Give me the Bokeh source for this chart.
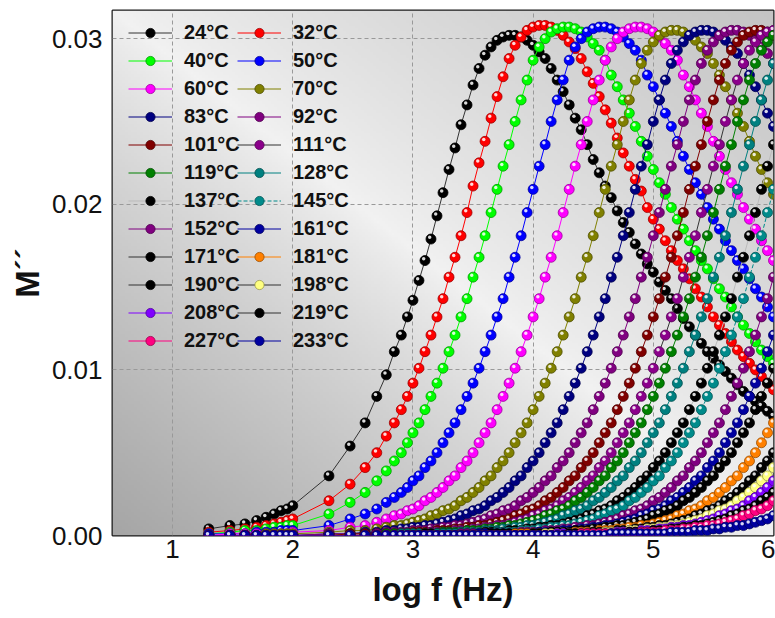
import numpy as np
from bokeh.plotting import figure
from bokeh.models import Legend, LegendItem, FixedTicker, PrintfTickFormatter, Range1d
from bokeh.embed import file_html
from bokeh.resources import INLINE

# ---------------- data ----------------
LOG_F = [1.301, 1.477, 1.602, 1.699, 1.778, 1.845, 1.903, 1.954, 2.0,
         2.301, 2.477, 2.602, 2.699, 2.778, 2.845, 2.903, 2.954,
         3.0, 3.05, 3.1, 3.15, 3.2, 3.25, 3.3, 3.35, 3.4, 3.45, 3.5, 3.55, 3.6, 3.65, 3.7, 3.75,
         3.8, 3.85, 3.9, 3.95, 4.0, 4.05, 4.1, 4.15, 4.2, 4.25, 4.3, 4.35, 4.4, 4.45, 4.5, 4.55,
         4.6, 4.65, 4.7, 4.75, 4.8, 4.85, 4.9, 4.95, 5.0, 5.05, 5.1, 5.15, 5.2, 5.25, 5.3, 5.35,
         5.4, 5.45, 5.5, 5.55, 5.6, 5.65, 5.7, 5.75, 5.8, 5.85, 5.9, 5.95, 6.0]

TEMPS = ["24", "32", "40", "50", "60", "70", "83", "92", "101", "111", "119", "128",
         "137", "145", "152", "161", "171", "181", "190", "198", "208", "219", "227", "233"]

m24 = [0.0004, 0.0006, 0.0007, 0.0009, 0.0011, 0.0013, 0.0015, 0.0016, 0.0018,
       0.0036, 0.0054, 0.0068, 0.0084, 0.0097, 0.0111, 0.0121, 0.0132,
       0.0142, 0.0154, 0.0166, 0.0179, 0.0193, 0.0207, 0.0221, 0.0234, 0.0248, 0.0260, 0.0272,
       0.0282, 0.0290, 0.0295, 0.0299, 0.0301, 0.0302, 0.0302, 0.0301, 0.0299, 0.0296, 0.0292,
       0.0288, 0.0282, 0.0275, 0.0268, 0.0260, 0.0252, 0.0245, 0.0236, 0.0227, 0.0219, 0.0211,
       0.0204, 0.0196, 0.0189, 0.0183, 0.0176, 0.0170, 0.0164, 0.0159, 0.0153, 0.0148, 0.0143,
       0.0137, 0.0131, 0.0126, 0.0121, 0.0116, 0.0111, 0.0107, 0.0103, 0.0099, 0.0095, 0.0091,
       0.0087, 0.0084, 0.0081, 0.0078, 0.0075, 0.0072]
m32 = [0.0002, 0.0003, 0.0004, 0.0005, 0.0006, 0.0007, 0.0008, 0.0009, 0.0010,
       0.0021, 0.0031, 0.0041, 0.0050, 0.0060, 0.0068, 0.0076, 0.0084,
       0.0092, 0.0101, 0.0111, 0.0121, 0.0132, 0.0143, 0.0156, 0.0168, 0.0181, 0.0195, 0.0211,
       0.0225, 0.0238, 0.0252, 0.0265, 0.0277, 0.0288, 0.0296, 0.0301, 0.0305, 0.0307, 0.0308,
       0.0308, 0.0307, 0.0305, 0.0302, 0.0298, 0.0294, 0.0288, 0.0280, 0.0273, 0.0265, 0.0257,
       0.0249, 0.0240, 0.0231, 0.0223, 0.0215, 0.0208, 0.0198, 0.0191, 0.0185, 0.0178, 0.0172,
       0.0166, 0.0161, 0.0155, 0.0149, 0.0144, 0.0138, 0.0132, 0.0127, 0.0122, 0.0117, 0.0112,
       0.0108, 0.0104, 0.0100, 0.0096, 0.0092, 0.0088]
m40 = [0.0001, 0.0002, 0.0003, 0.0003, 0.0004, 0.0005, 0.0005, 0.0006, 0.0006,
       0.0013, 0.0020, 0.0026, 0.0033, 0.0039, 0.0045, 0.0050, 0.0056,
       0.0062, 0.0068, 0.0076, 0.0084, 0.0092, 0.0101, 0.0111, 0.0121, 0.0132, 0.0143, 0.0156,
       0.0168, 0.0181, 0.0195, 0.0209, 0.0223, 0.0236, 0.0250, 0.0263, 0.0275, 0.0287, 0.0295,
       0.0300, 0.0304, 0.0306, 0.0307, 0.0307, 0.0306, 0.0304, 0.0301, 0.0297, 0.0293, 0.0287,
       0.0278, 0.0271, 0.0263, 0.0255, 0.0247, 0.0238, 0.0229, 0.0221, 0.0213, 0.0206, 0.0198,
       0.0191, 0.0185, 0.0178, 0.0172, 0.0166, 0.0161, 0.0155, 0.0149, 0.0144, 0.0138, 0.0132,
       0.0127, 0.0122, 0.0117, 0.0112, 0.0108, 0.0104]
m50 = [0.0001, 0.0001, 0.0001, 0.0002, 0.0002, 0.0002, 0.0003, 0.0003, 0.0003,
       0.0006, 0.0010, 0.0013, 0.0016, 0.0020, 0.0023, 0.0026, 0.0029,
       0.0033, 0.0036, 0.0041, 0.0045, 0.0050, 0.0056, 0.0062, 0.0068, 0.0076, 0.0084, 0.0092,
       0.0101, 0.0111, 0.0121, 0.0132, 0.0143, 0.0156, 0.0168, 0.0181, 0.0195, 0.0209, 0.0223,
       0.0236, 0.0250, 0.0263, 0.0275, 0.0287, 0.0295, 0.0300, 0.0304, 0.0306, 0.0307, 0.0307,
       0.0306, 0.0304, 0.0301, 0.0297, 0.0293, 0.0287, 0.0278, 0.0271, 0.0263, 0.0255, 0.0247,
       0.0238, 0.0229, 0.0221, 0.0213, 0.0206, 0.0198, 0.0191, 0.0185, 0.0178, 0.0172, 0.0166,
       0.0161, 0.0155, 0.0149, 0.0144, 0.0138, 0.0132]
m60 = [0, 0.0001, 0.0001, 0.0001, 0.0001, 0.0001, 0.0001, 0.0001, 0.0002,
       0.0003, 0.0005, 0.0006, 0.0008, 0.0010, 0.0012, 0.0013, 0.0015,
       0.0016, 0.0018, 0.0021, 0.0023, 0.0026, 0.0029, 0.0033, 0.0036, 0.0041, 0.0045, 0.0050,
       0.0056, 0.0062, 0.0068, 0.0076, 0.0084, 0.0092, 0.0101, 0.0111, 0.0121, 0.0132, 0.0143,
       0.0156, 0.0168, 0.0181, 0.0195, 0.0209, 0.0223, 0.0236, 0.0250, 0.0263, 0.0275, 0.0287,
       0.0295, 0.0300, 0.0304, 0.0306, 0.0307, 0.0307, 0.0306, 0.0304, 0.0301, 0.0297, 0.0293,
       0.0287, 0.0278, 0.0271, 0.0263, 0.0255, 0.0247, 0.0238, 0.0229, 0.0221, 0.0213, 0.0206,
       0.0198, 0.0191, 0.0185, 0.0178, 0.0172, 0.0166]
m70 = [0, 0, 0, 0, 0.0001, 0.0001, 0.0001, 0.0001, 0.0001,
       0.0002, 0.0003, 0.0003, 0.0004, 0.0005, 0.0006, 0.0006, 0.0007,
       0.0008, 0.0009, 0.0010, 0.0012, 0.0013, 0.0015, 0.0016, 0.0018, 0.0021, 0.0023, 0.0026,
       0.0029, 0.0033, 0.0036, 0.0041, 0.0045, 0.0050, 0.0056, 0.0062, 0.0068, 0.0076, 0.0084,
       0.0092, 0.0101, 0.0111, 0.0121, 0.0132, 0.0143, 0.0156, 0.0168, 0.0181, 0.0195, 0.0209,
       0.0223, 0.0236, 0.0250, 0.0263, 0.0275, 0.0285, 0.0293, 0.0298, 0.0302, 0.0304, 0.0305,
       0.0305, 0.0304, 0.0302, 0.0299, 0.0295, 0.0291, 0.0285, 0.0278, 0.0271, 0.0263, 0.0255,
       0.0247, 0.0238, 0.0229, 0.0221, 0.0213, 0.0206]
m83 = [0, 0, 0, 0, 0, 0, 0, 0, 0,
       0.0001, 0.0001, 0.0002, 0.0002, 0.0003, 0.0003, 0.0004, 0.0004,
       0.0005, 0.0005, 0.0006, 0.0006, 0.0007, 0.0008, 0.0009, 0.0010, 0.0012, 0.0013, 0.0015,
       0.0016, 0.0018, 0.0021, 0.0023, 0.0026, 0.0029, 0.0033, 0.0036, 0.0041, 0.0045, 0.0050,
       0.0056, 0.0062, 0.0068, 0.0076, 0.0084, 0.0092, 0.0101, 0.0111, 0.0121, 0.0132, 0.0143,
       0.0156, 0.0168, 0.0181, 0.0195, 0.0209, 0.0223, 0.0236, 0.0250, 0.0263, 0.0275, 0.0285,
       0.0293, 0.0298, 0.0302, 0.0304, 0.0305, 0.0305, 0.0304, 0.0302, 0.0299, 0.0295, 0.0291,
       0.0285, 0.0278, 0.0271, 0.0263, 0.0255, 0.0247]
m92 = [0, 0, 0, 0, 0, 0, 0, 0, 0,
       0.0001, 0.0001, 0.0001, 0.0001, 0.0002, 0.0002, 0.0002, 0.0002,
       0.0003, 0.0003, 0.0003, 0.0004, 0.0004, 0.0005, 0.0005, 0.0006, 0.0006, 0.0007, 0.0008,
       0.0009, 0.0010, 0.0012, 0.0013, 0.0015, 0.0016, 0.0018, 0.0021, 0.0023, 0.0026, 0.0029,
       0.0033, 0.0036, 0.0041, 0.0045, 0.0050, 0.0056, 0.0062, 0.0068, 0.0076, 0.0084, 0.0092,
       0.0101, 0.0111, 0.0121, 0.0132, 0.0143, 0.0156, 0.0168, 0.0181, 0.0195, 0.0209, 0.0223,
       0.0236, 0.0250, 0.0263, 0.0275, 0.0285, 0.0293, 0.0298, 0.0302, 0.0304, 0.0305, 0.0305,
       0.0304, 0.0302, 0.0299, 0.0295, 0.0291, 0.0285]
m101 = [0, 0, 0, 0, 0, 0, 0, 0, 0,
        0, 0.0001, 0.0001, 0.0001, 0.0001, 0.0001, 0.0001, 0.0001,
        0.0002, 0.0002, 0.0002, 0.0002, 0.0003, 0.0003, 0.0003, 0.0004, 0.0004, 0.0005, 0.0005,
        0.0006, 0.0006, 0.0007, 0.0008, 0.0009, 0.0010, 0.0012, 0.0013, 0.0015, 0.0016, 0.0018,
        0.0021, 0.0023, 0.0026, 0.0029, 0.0033, 0.0036, 0.0041, 0.0045, 0.0050, 0.0056, 0.0062,
        0.0068, 0.0076, 0.0084, 0.0092, 0.0101, 0.0111, 0.0121, 0.0132, 0.0143, 0.0156, 0.0168,
        0.0181, 0.0195, 0.0209, 0.0223, 0.0236, 0.0250, 0.0263, 0.0275, 0.0285, 0.0293, 0.0298,
        0.0302, 0.0304, 0.0305, 0.0305, 0.0304, 0.0302]
m111 = [0, 0, 0, 0, 0, 0, 0, 0, 0,
        0, 0, 0, 0.0001, 0.0001, 0.0001, 0.0001, 0.0001,
        0.0001, 0.0001, 0.0001, 0.0002, 0.0002, 0.0002, 0.0002, 0.0003, 0.0003, 0.0003, 0.0004,
        0.0004, 0.0005, 0.0005, 0.0006, 0.0006, 0.0007, 0.0008, 0.0009, 0.0010, 0.0012, 0.0013,
        0.0015, 0.0016, 0.0018, 0.0021, 0.0023, 0.0026, 0.0029, 0.0033, 0.0036, 0.0041, 0.0045,
        0.0050, 0.0056, 0.0062, 0.0068, 0.0076, 0.0084, 0.0092, 0.0101, 0.0111, 0.0121, 0.0132,
        0.0143, 0.0156, 0.0168, 0.0181, 0.0195, 0.0209, 0.0223, 0.0236, 0.0250, 0.0263, 0.0275,
        0.0285, 0.0293, 0.0298, 0.0302, 0.0304, 0.0305]
m119 = [0, 0, 0, 0, 0, 0, 0, 0, 0,
        0, 0, 0, 0, 0.0001, 0.0001, 0.0001, 0.0001,
        0.0001, 0.0001, 0.0001, 0.0001, 0.0001, 0.0002, 0.0002, 0.0002, 0.0002, 0.0003, 0.0003,
        0.0003, 0.0004, 0.0004, 0.0005, 0.0005, 0.0006, 0.0006, 0.0007, 0.0008, 0.0009, 0.0010,
        0.0012, 0.0013, 0.0015, 0.0016, 0.0018, 0.0021, 0.0023, 0.0026, 0.0029, 0.0033, 0.0036,
        0.0041, 0.0045, 0.0050, 0.0056, 0.0062, 0.0068, 0.0076, 0.0084, 0.0092, 0.0101, 0.0111,
        0.0121, 0.0132, 0.0143, 0.0156, 0.0168, 0.0181, 0.0195, 0.0209, 0.0223, 0.0236, 0.0250,
        0.0263, 0.0275, 0.0285, 0.0293, 0.0298, 0.0302]
m128 = [0, 0, 0, 0, 0, 0, 0, 0, 0,
        0, 0, 0, 0, 0, 0, 0.0001, 0.0001,
        0.0001, 0.0001, 0.0001, 0.0001, 0.0001, 0.0001, 0.0001, 0.0001, 0.0002, 0.0002, 0.0002,
        0.0002, 0.0003, 0.0003, 0.0003, 0.0004, 0.0004, 0.0005, 0.0005, 0.0006, 0.0006, 0.0007,
        0.0008, 0.0009, 0.0010, 0.0012, 0.0013, 0.0015, 0.0016, 0.0018, 0.0021, 0.0023, 0.0026,
        0.0029, 0.0033, 0.0036, 0.0041, 0.0045, 0.0050, 0.0056, 0.0062, 0.0068, 0.0076, 0.0084,
        0.0092, 0.0101, 0.0111, 0.0121, 0.0132, 0.0143, 0.0156, 0.0168, 0.0181, 0.0195, 0.0209,
        0.0223, 0.0236, 0.0250, 0.0263, 0.0275, 0.0285]
m137 = [0, 0, 0, 0, 0, 0, 0, 0, 0,
        0, 0, 0, 0, 0, 0, 0, 0,
        0, 0, 0.0001, 0.0001, 0.0001, 0.0001, 0.0001, 0.0001, 0.0001, 0.0001, 0.0001, 0.0001,
        0.0002, 0.0002, 0.0002, 0.0002, 0.0003, 0.0003, 0.0003, 0.0004, 0.0004, 0.0005, 0.0005,
        0.0006, 0.0006, 0.0007, 0.0008, 0.0009, 0.0010, 0.0012, 0.0013, 0.0015, 0.0016, 0.0018,
        0.0021, 0.0023, 0.0026, 0.0029, 0.0033, 0.0036, 0.0041, 0.0045, 0.0050, 0.0056, 0.0062,
        0.0068, 0.0076, 0.0084, 0.0092, 0.0101, 0.0111, 0.0121, 0.0132, 0.0143, 0.0156, 0.0168,
        0.0181, 0.0195, 0.0209, 0.0223, 0.0236]
m145 = [0, 0, 0, 0, 0, 0, 0, 0, 0,
        0, 0, 0, 0, 0, 0, 0, 0,
        0, 0, 0, 0, 0.0001, 0.0001, 0.0001, 0.0001, 0.0001, 0.0001, 0.0001, 0.0001, 0.0001,
        0.0001, 0.0002, 0.0002, 0.0002, 0.0002, 0.0003, 0.0003, 0.0003, 0.0004, 0.0004, 0.0005,
        0.0005, 0.0006, 0.0006, 0.0007, 0.0008, 0.0009, 0.0010, 0.0012, 0.0013, 0.0015, 0.0016,
        0.0018, 0.0021, 0.0023, 0.0026, 0.0029, 0.0033, 0.0036, 0.0041, 0.0045, 0.0050, 0.0056,
        0.0062, 0.0068, 0.0076, 0.0084, 0.0092, 0.0101, 0.0111, 0.0121, 0.0132, 0.0143, 0.0156,
        0.0168, 0.0181, 0.0195, 0.0209]
m152 = [0, 0, 0, 0, 0, 0, 0, 0, 0,
        0, 0, 0, 0, 0, 0, 0, 0,
        0, 0, 0, 0, 0, 0, 0, 0, 0.0001, 0.0001, 0.0001, 0.0001, 0.0001, 0.0001, 0.0001,
        0.0001, 0.0001, 0.0001, 0.0002, 0.0002, 0.0002, 0.0002, 0.0003, 0.0003, 0.0003, 0.0004,
        0.0004, 0.0005, 0.0005, 0.0006, 0.0006, 0.0007, 0.0008, 0.0009, 0.0010, 0.0012, 0.0013,
        0.0015, 0.0016, 0.0018, 0.0021, 0.0023, 0.0026, 0.0029, 0.0033, 0.0036, 0.0041, 0.0045,
        0.0050, 0.0056, 0.0062, 0.0068, 0.0076, 0.0084, 0.0092, 0.0101, 0.0111, 0.0121, 0.0132,
        0.0143, 0.0156]
m161 = [0, 0, 0, 0, 0, 0, 0, 0, 0,
        0, 0, 0, 0, 0, 0, 0, 0,
        0, 0, 0, 0, 0, 0, 0, 0, 0, 0, 0, 0.0001, 0.0001, 0.0001, 0.0001, 0.0001, 0.0001,
        0.0001, 0.0001, 0.0001, 0.0001, 0.0002, 0.0002, 0.0002, 0.0002, 0.0003, 0.0003, 0.0003,
        0.0004, 0.0004, 0.0005, 0.0005, 0.0006, 0.0006, 0.0007, 0.0008, 0.0009, 0.0010, 0.0012,
        0.0013, 0.0015, 0.0016, 0.0018, 0.0021, 0.0023, 0.0026, 0.0029, 0.0033, 0.0036, 0.0041,
        0.0045, 0.0050, 0.0056, 0.0062, 0.0068, 0.0076, 0.0084, 0.0092, 0.0101, 0.0111, 0.0121]
m171 = [0, 0, 0, 0, 0, 0, 0, 0, 0,
        0, 0, 0, 0, 0, 0, 0, 0,
        0, 0, 0, 0, 0, 0, 0, 0, 0, 0, 0, 0, 0, 0.0001, 0.0001, 0.0001, 0.0001,
        0.0001, 0.0001, 0.0001, 0.0001, 0.0001, 0.0001, 0.0002, 0.0002, 0.0002, 0.0002, 0.0003,
        0.0003, 0.0003, 0.0004, 0.0004, 0.0005, 0.0005, 0.0006, 0.0006, 0.0007, 0.0008, 0.0009,
        0.0010, 0.0012, 0.0013, 0.0015, 0.0016, 0.0018, 0.0021, 0.0023, 0.0026, 0.0029, 0.0033,
        0.0036, 0.0041, 0.0045, 0.0050, 0.0056, 0.0062, 0.0068, 0.0076, 0.0084, 0.0092, 0.0101]
m181 = [0, 0, 0, 0, 0, 0, 0, 0, 0,
        0, 0, 0, 0, 0, 0, 0, 0,
        0, 0, 0, 0, 0, 0, 0, 0, 0, 0, 0, 0, 0, 0, 0, 0, 0, 0.0001,
        0.0001, 0.0001, 0.0001, 0.0001, 0.0001, 0.0001, 0.0001, 0.0001, 0.0001, 0.0002, 0.0002,
        0.0002, 0.0002, 0.0003, 0.0003, 0.0003, 0.0004, 0.0004, 0.0005, 0.0005, 0.0006, 0.0006,
        0.0007, 0.0008, 0.0009, 0.0010, 0.0012, 0.0013, 0.0015, 0.0016, 0.0018, 0.0021, 0.0023,
        0.0026, 0.0029, 0.0033, 0.0036, 0.0041, 0.0045, 0.0050, 0.0056, 0.0062, 0.0068]
m190 = [0, 0, 0, 0, 0, 0, 0, 0, 0,
        0, 0, 0, 0, 0, 0, 0, 0,
        0, 0, 0, 0, 0, 0, 0, 0, 0, 0, 0, 0, 0, 0, 0, 0, 0, 0, 0, 0,
        0.0001, 0.0001, 0.0001, 0.0001, 0.0001, 0.0001, 0.0001, 0.0001, 0.0001, 0.0001,
        0.0002, 0.0002, 0.0002, 0.0002, 0.0003, 0.0003, 0.0003, 0.0004, 0.0004, 0.0005, 0.0005,
        0.0006, 0.0006, 0.0007, 0.0008, 0.0009, 0.0010, 0.0012, 0.0013, 0.0015, 0.0016, 0.0018,
        0.0021, 0.0023, 0.0026, 0.0029, 0.0033, 0.0036, 0.0041, 0.0045, 0.0050]
m198 = [0, 0, 0, 0, 0, 0, 0, 0, 0,
        0, 0, 0, 0, 0, 0, 0, 0,
        0, 0, 0, 0, 0, 0, 0, 0, 0, 0, 0, 0, 0, 0, 0, 0, 0, 0, 0, 0, 0, 0,
        0.0001, 0.0001, 0.0001, 0.0001, 0.0001, 0.0001, 0.0001, 0.0001, 0.0001, 0.0001,
        0.0002, 0.0002, 0.0002, 0.0002, 0.0003, 0.0003, 0.0003, 0.0004, 0.0004, 0.0005, 0.0005,
        0.0006, 0.0006, 0.0007, 0.0008, 0.0009, 0.0010, 0.0012, 0.0013, 0.0015, 0.0016, 0.0018,
        0.0021, 0.0023, 0.0026, 0.0029, 0.0033, 0.0036, 0.0041]
m208 = [0, 0, 0, 0, 0, 0, 0, 0, 0,
        0, 0, 0, 0, 0, 0, 0, 0,
        0, 0, 0, 0, 0, 0, 0, 0, 0, 0, 0, 0, 0, 0, 0, 0, 0, 0, 0, 0, 0, 0, 0, 0,
        0.0001, 0.0001, 0.0001, 0.0001, 0.0001, 0.0001, 0.0001, 0.0001, 0.0001, 0.0001,
        0.0002, 0.0002, 0.0002, 0.0002, 0.0003, 0.0003, 0.0003, 0.0004, 0.0004, 0.0005, 0.0005,
        0.0006, 0.0006, 0.0007, 0.0008, 0.0009, 0.0010, 0.0012, 0.0013, 0.0015, 0.0016, 0.0018,
        0.0021, 0.0023, 0.0026, 0.0029, 0.0033]
m219 = [0, 0, 0, 0, 0, 0, 0, 0, 0,
        0, 0, 0, 0, 0, 0, 0, 0,
        0, 0, 0, 0, 0, 0, 0, 0, 0, 0, 0, 0, 0, 0, 0, 0, 0, 0, 0, 0, 0, 0, 0, 0, 0, 0,
        0.0001, 0.0001, 0.0001, 0.0001, 0.0001, 0.0001, 0.0001, 0.0001, 0.0001, 0.0001,
        0.0002, 0.0002, 0.0002, 0.0002, 0.0003, 0.0003, 0.0003, 0.0004, 0.0004, 0.0005, 0.0005,
        0.0006, 0.0006, 0.0007, 0.0008, 0.0009, 0.0010, 0.0012, 0.0013, 0.0015, 0.0016, 0.0018,
        0.0021, 0.0023, 0.0026]
m227 = [0, 0, 0, 0, 0, 0, 0, 0, 0,
        0, 0, 0, 0, 0, 0, 0, 0,
        0, 0, 0, 0, 0, 0, 0, 0, 0, 0, 0, 0, 0, 0, 0, 0, 0, 0, 0, 0, 0, 0, 0, 0, 0, 0, 0, 0,
        0.0001, 0.0001, 0.0001, 0.0001, 0.0001, 0.0001, 0.0001, 0.0001, 0.0001, 0.0001,
        0.0002, 0.0002, 0.0002, 0.0002, 0.0003, 0.0003, 0.0003, 0.0004, 0.0004, 0.0005, 0.0005,
        0.0006, 0.0006, 0.0007, 0.0008, 0.0009, 0.0010, 0.0012, 0.0013, 0.0015, 0.0016, 0.0018,
        0.0021]
m233 = [0, 0, 0, 0, 0, 0, 0, 0, 0,
        0, 0, 0, 0, 0, 0, 0, 0,
        0, 0, 0, 0, 0, 0, 0, 0, 0, 0, 0, 0, 0, 0, 0, 0, 0, 0, 0, 0, 0, 0, 0, 0, 0, 0, 0, 0,
        0, 0, 0, 0, 0,
        0.0001, 0.0001, 0.0001, 0.0001, 0.0001, 0.0001, 0.0001, 0.0001, 0.0001, 0.0001,
        0.0002, 0.0002, 0.0002, 0.0002, 0.0003, 0.0003, 0.0003, 0.0004, 0.0004, 0.0005, 0.0005,
        0.0006, 0.0006, 0.0007, 0.0008, 0.0009, 0.0010, 0.0012]

SERIES = [m24, m32, m40, m50, m60, m70, m83, m92, m101, m111, m119, m128,
          m137, m145, m152, m161, m171, m181, m190, m198, m208, m219, m227, m233]

COLORS = ["#000000", "#ff0000", "#00ff00", "#0000ff", "#ff00ff", "#808000", "#000080", "#800080",
          "#800000", "#8b008b", "#008000", "#008080", "#000000", "#008b8b", "#800080", "#0000a0",
          "#000000", "#ff8000", "#000000", "#ffff80", "#8000ff", "#000000", "#ff0080", "#0000a0"]
LINE_COLORS = ["#333333", "#ff0000", "#00ff00", "#0000ff", "#ff00ff", "#808000", "#000080", "#800080",
               "#800000", "#333333", "#008000", "#008080", "#bbbbbb", "#008b8b", "#800080", "#0000a0",
               "#333333", "#ff8000", "#333333", "#333333", "#8000ff", "#333333", "#ff0080", "#0000a0"]
LINE_DASHES = ["solid"] * 13 + ["4 2"] + ["solid"] * 10

for t, s in zip(TEMPS, SERIES):
    if len(s) != len(LOG_F):
        raise ValueError(f"series {t}: {len(s)} values, expected {len(LOG_F)}")

# ---------------- figure ----------------
X0, X1 = 0.5, 6.0
Y0, Y1 = 0.0, 0.0317
W, H = 775, 610
BL, BR, BT, BB = 112, 2, 10, 75
FW, FH = W - BL - BR, H - BT - BB

p = figure(width=W, height=H, x_range=Range1d(X0, X1), y_range=Range1d(Y0, Y1),
           output_backend="svg", toolbar_location=None,
           min_border_left=BL, min_border_right=BR, min_border_top=BT, min_border_bottom=BB,
           background_fill_color="#dddddd", border_fill_color="white")

# gradient plot-area background (pure styling)
nx, ny = 220, 180
uu = np.linspace(0, 1, nx)[None, :]
vv = np.linspace(1, 0, ny)[:, None]
sd = vv - uu
shade = np.where(sd > 0, 0.95 - 0.30 * np.abs(sd) ** 0.8, 0.95 - 0.18 * np.abs(sd) ** 0.8)
gval = np.clip(shade * 255, 0, 255).astype(np.uint8)
img = np.zeros((ny, nx), dtype=np.uint32)
view = img.view(dtype=np.uint8).reshape((ny, nx, 4))
view[:, :, 0] = gval
view[:, :, 1] = gval
view[:, :, 2] = gval
view[:, :, 3] = 255
p.image_rgba(image=[img], x=X0, y=Y0, dw=X1 - X0, dh=Y1 - Y0, level="image")


def darker(hexc, f=0.6):
    r, g, b = int(hexc[1:3], 16), int(hexc[3:5], 16), int(hexc[5:7], 16)
    return "#%02x%02x%02x" % (int(r * f), int(g * f), int(b * f))


# pixel offsets of the sphere highlight, converted through the scales
DX = -1.3 * (X1 - X0) / FW
DY = 1.8 * (Y1 - Y0) / FH

items = []
for t, s, c, lc, ld in zip(TEMPS, SERIES, COLORS, LINE_COLORS, LINE_DASHES):
    xs = np.array(LOG_F)
    ys = np.array(s, dtype=float)
    r_line = p.line(xs, ys, line_color=lc, line_width=1, line_dash=ld)
    r_dot = p.scatter(xs, ys, size=10, fill_color=c, line_color=darker(c), line_width=0.8)
    p.scatter(xs + DX, ys + DY, size=3.5, fill_color="white", fill_alpha=0.85, line_color=None)
    items.append(LegendItem(label=f"{t}°C", renderers=[r_line, r_dot]))

leg_kw = dict(glyph_width=44, glyph_height=23, label_height=23, spacing=5, padding=0, margin=0,
              label_standoff=12, label_text_font="Liberation Sans", label_text_font_style="bold",
              label_text_font_size="20px", label_text_color="#111111",
              border_line_color=None, background_fill_alpha=0)
leg1 = Legend(items=items[0::2], location=(16, 183), **leg_kw)
leg2 = Legend(items=items[1::2], location=(125, 183), **leg_kw)
p.add_layout(leg1)
p.add_layout(leg2)

# axes
p.xaxis.ticker = FixedTicker(ticks=[1, 2, 3, 4, 5, 6])
p.yaxis.ticker = FixedTicker(ticks=[0.0, 0.01, 0.02, 0.03])
p.yaxis.formatter = PrintfTickFormatter(format="%.2f")
for ax in (p.xaxis, p.yaxis):
    ax.axis_line_color = None
    ax.major_tick_in = 0
    ax.major_tick_out = 0
    ax.minor_tick_in = 0
    ax.minor_tick_out = 0
    ax.major_label_text_font = "Liberation Sans"
    ax.major_label_text_font_size = "26px"
    ax.major_label_text_color = "#111111"
    ax.axis_label_text_font = "Liberation Sans"
    ax.axis_label_text_font_style = "bold"
    ax.axis_label_text_font_size = "33px"
    ax.axis_label_text_color = "#111111"
p.xaxis.axis_label = "log f (Hz)"
p.yaxis.axis_label = "M´´"
p.xaxis.major_label_standoff = 4
p.xaxis.axis_label_standoff = 10
p.yaxis.major_label_standoff = 10
p.yaxis.axis_label_standoff = 3

p.grid.grid_line_color = "#999999"
p.grid.grid_line_dash = "4 3"
p.grid.grid_line_width = 1

p.outline_line_color = "#1a1a1a"
p.outline_line_width = 2

open("out.html", "w").write(file_html(p, INLINE))
